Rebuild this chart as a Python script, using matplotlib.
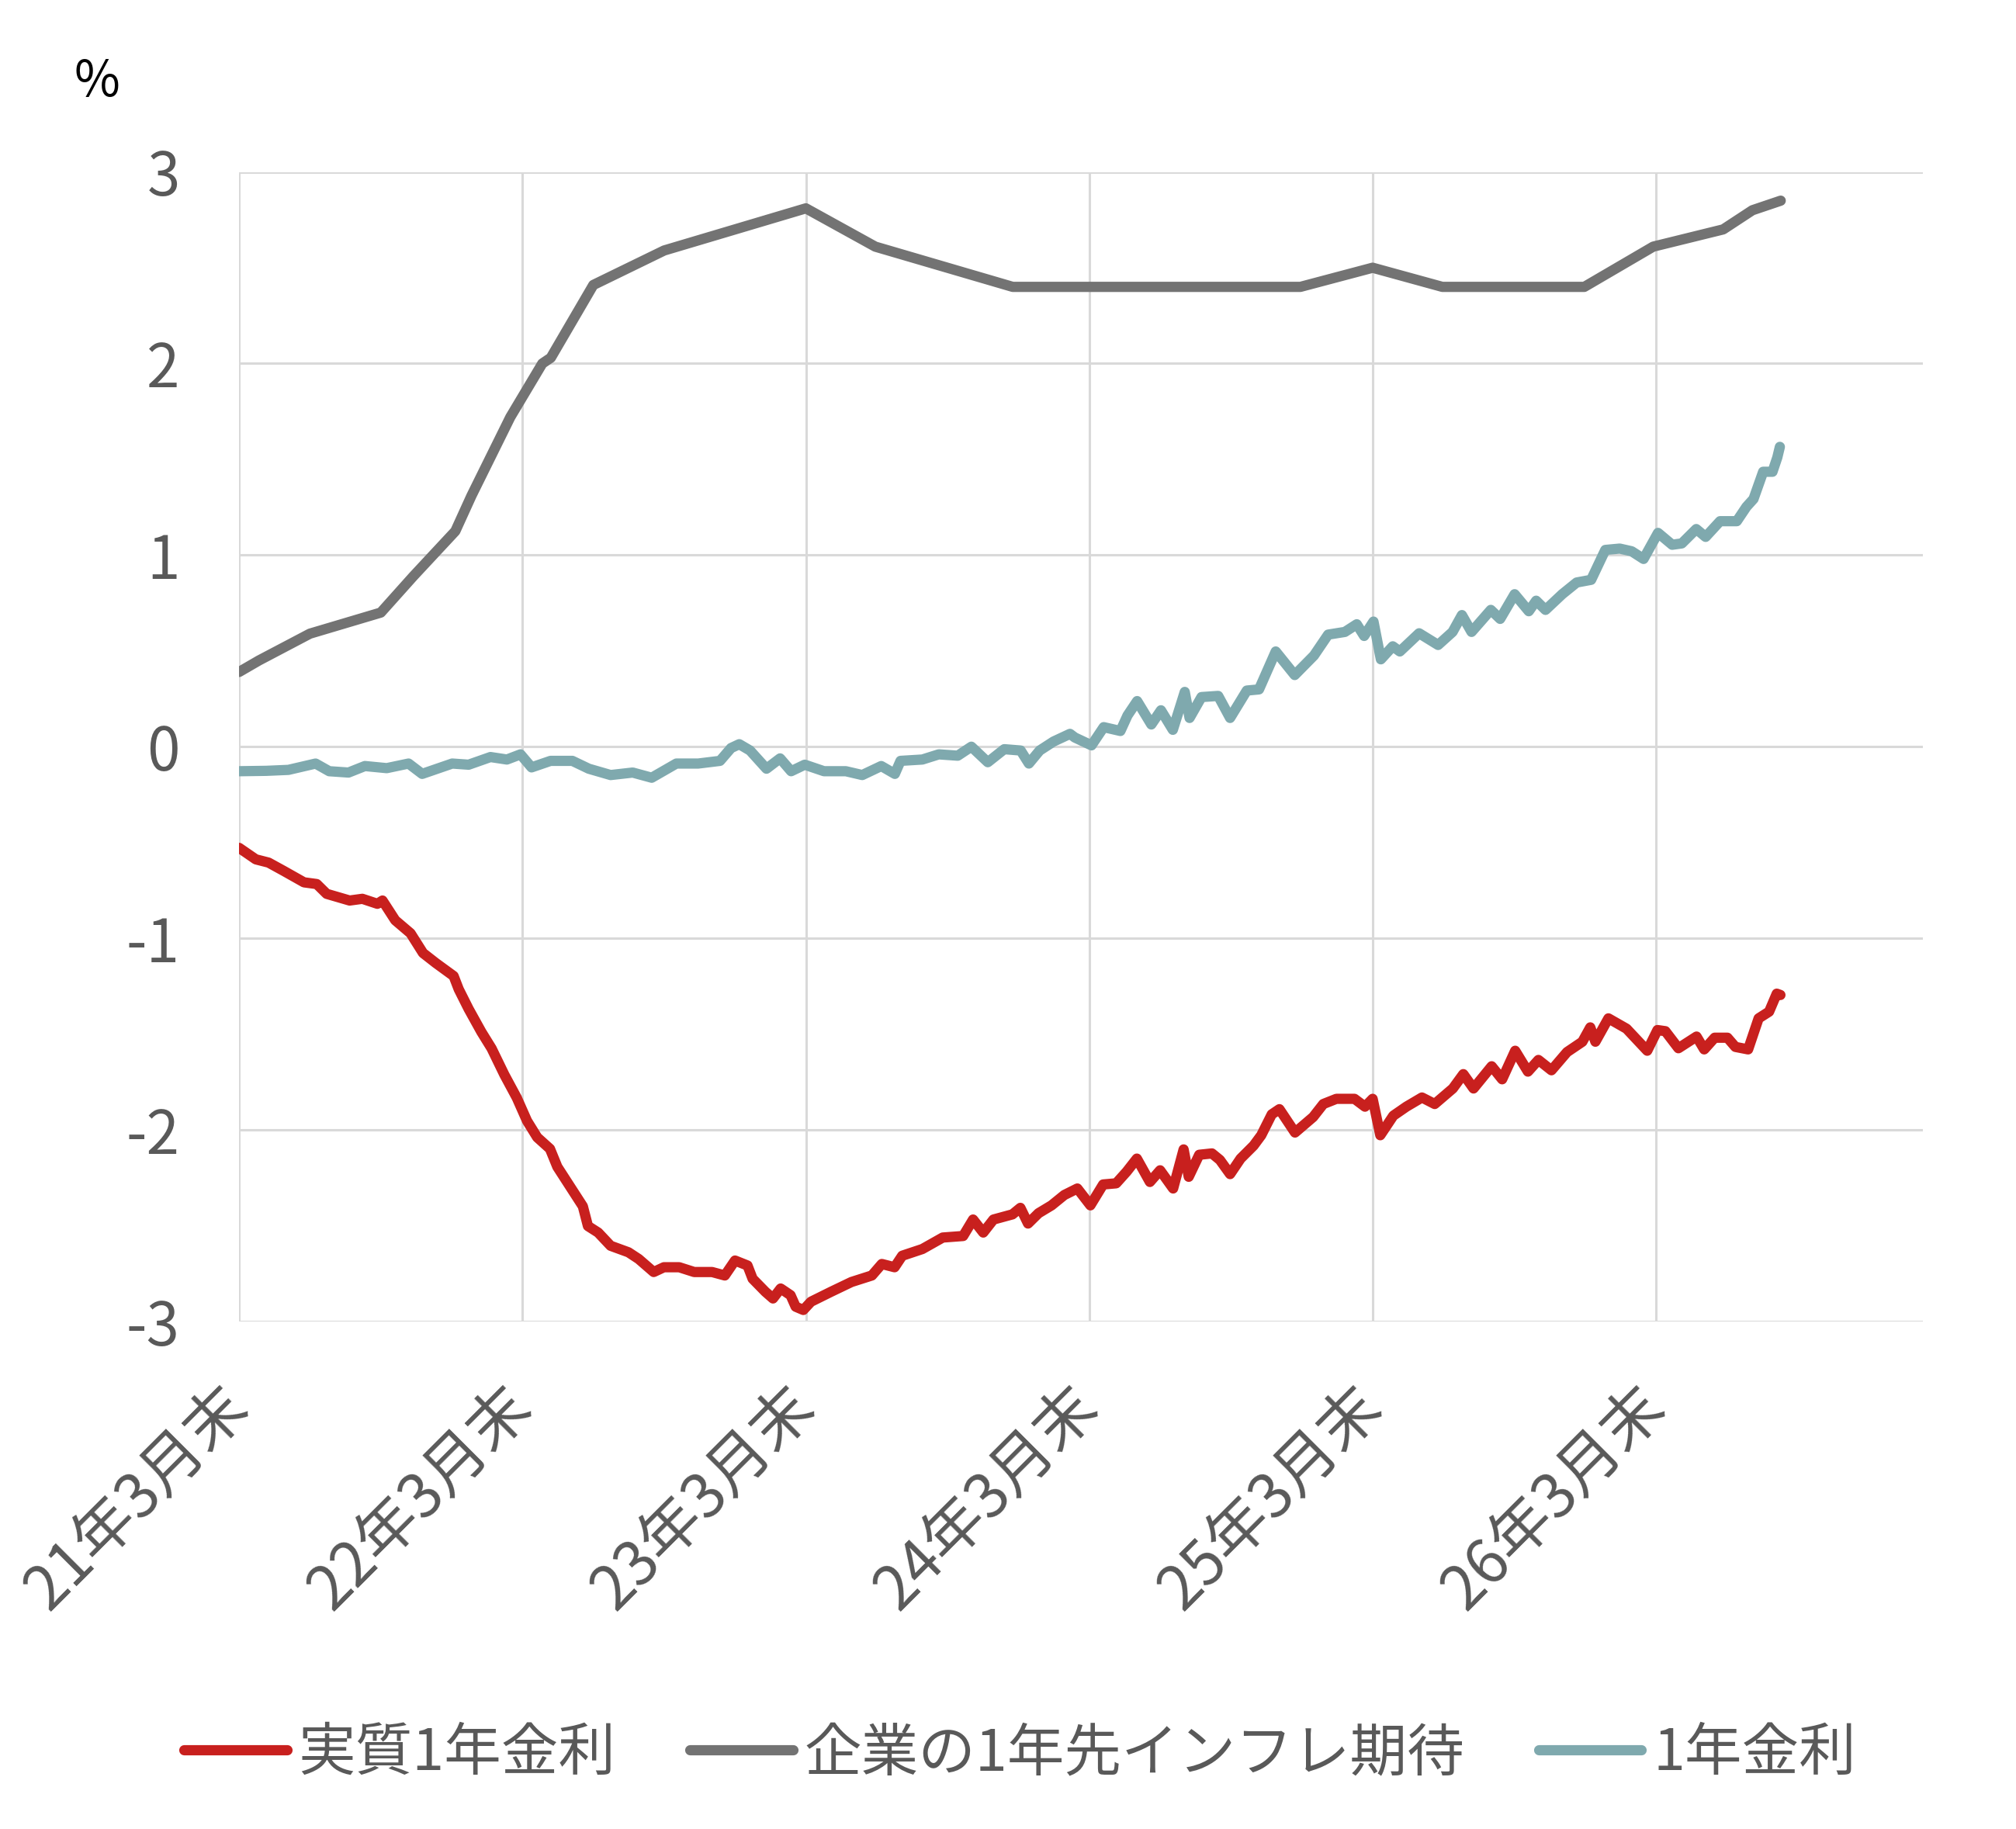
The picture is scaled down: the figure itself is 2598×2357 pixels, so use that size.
import matplotlib
matplotlib.use("Agg")
import numpy as np
from matplotlib import pyplot as plt

plt.rcParams['font.family'] = ['Noto Sans CJK JP', 'DejaVu Sans']

# x軸: 21年3月末からの経過年数
tick_pos = [0, 1, 2, 3, 4, 5]
tick_labels = ['21年3月末', '22年3月末', '23年3月末', '24年3月末', '25年3月末', '26年3月末']

# 企業の1年先インフレ期待
infl_t = [0.0, 0.07, 0.25, 0.50, 0.615, 0.763, 0.82, 0.957, 1.07, 1.10, 1.25, 1.50,
          1.75, 2.0, 2.245, 2.73, 3.745, 4.0, 4.246, 4.747, 4.99, 5.237, 5.34, 5.44]
infl_v = [0.39, 0.45, 0.59, 0.70, 0.89, 1.125, 1.31, 1.72, 2.0, 2.03, 2.41, 2.59,
          2.70, 2.81, 2.61, 2.40, 2.40, 2.50, 2.40, 2.40, 2.61, 2.70, 2.80, 2.85]

# 1年金利
rate_t = [0.000, 0.096, 0.174, 0.270, 0.318, 0.386, 0.444, 0.521, 0.598, 0.646,
          0.752, 0.810, 0.887, 0.945, 0.993, 1.032, 1.099, 1.176, 1.234, 1.311,
          1.389, 1.456, 1.543, 1.620, 1.697, 1.736, 1.765, 1.803, 1.861, 1.909,
          1.948, 1.996, 2.064, 2.141, 2.199, 2.266, 2.314, 2.334, 2.411, 2.469,
          2.536, 2.584, 2.642, 2.700, 2.758, 2.787, 2.825, 2.874, 2.932, 2.949,
          3.008, 3.051, 3.110, 3.135, 3.169, 3.219, 3.253, 3.295, 3.337, 3.354,
          3.396, 3.455, 3.497, 3.556, 3.599, 3.658, 3.725, 3.793, 3.843, 3.902,
          3.944, 3.970, 4.003, 4.029, 4.071, 4.096, 4.164, 4.231, 4.282, 4.315,
          4.349, 4.417, 4.450, 4.501, 4.551, 4.577, 4.610, 4.669, 4.720, 4.771,
          4.821, 4.872, 4.914, 4.956, 5.007, 5.057, 5.091, 5.142, 5.175, 5.226,
          5.285, 5.319, 5.344, 5.378, 5.411, 5.428, 5.437]
rate_v = [-0.128, -0.126, -0.121, -0.088, -0.128, -0.135, -0.101, -0.112, -0.088, -0.142,
          -0.088, -0.094, -0.054, -0.067, -0.040, -0.108, -0.074, -0.074, -0.115, -0.148,
          -0.135, -0.162, -0.088, -0.088, -0.074, -0.007, 0.013, -0.020, -0.115, -0.061,
          -0.128, -0.094, -0.128, -0.128, -0.148, -0.101, -0.142, -0.074, -0.067, -0.040,
          -0.047, 0.000, -0.081, -0.013, -0.020, -0.088, -0.020, 0.027, 0.067, 0.048,
          0.007, 0.102, 0.082, 0.163, 0.238, 0.116, 0.190, 0.088, 0.286, 0.150,
          0.259, 0.265, 0.150, 0.293, 0.299, 0.497, 0.374, 0.476, 0.585, 0.599,
          0.639, 0.578, 0.653, 0.456, 0.524, 0.497, 0.592, 0.531, 0.599, 0.687,
          0.599, 0.714, 0.667, 0.796, 0.707, 0.762, 0.714, 0.796, 0.857, 0.871,
          1.027, 1.034, 1.020, 0.980, 1.116, 1.054, 1.061, 1.136, 1.095, 1.177,
          1.177, 1.252, 1.293, 1.435, 1.435, 1.510, 1.565]

# 実質1年金利
real_t = [0.000, 0.059, 0.104, 0.157, 0.229, 0.274, 0.309, 0.390, 0.435, 0.488,
          0.506, 0.551, 0.605, 0.649, 0.694, 0.757, 0.775, 0.810, 0.855, 0.891,
          0.936, 0.980, 1.016, 1.052, 1.097, 1.123, 1.168, 1.213, 1.231, 1.267,
          1.311, 1.374, 1.410, 1.463, 1.499, 1.553, 1.606, 1.669, 1.714, 1.750,
          1.794, 1.812, 1.857, 1.884, 1.911, 1.946, 1.964, 1.991, 2.018, 2.089,
          2.161, 2.233, 2.268, 2.313, 2.340, 2.411, 2.483, 2.555, 2.590, 2.626,
          2.662, 2.729, 2.757, 2.784, 2.821, 2.867, 2.912, 2.958, 3.004, 3.049,
          3.095, 3.132, 3.168, 3.214, 3.250, 3.296, 3.333, 3.351, 3.388, 3.433,
          3.461, 3.497, 3.534, 3.580, 3.607, 3.644, 3.671, 3.726, 3.790, 3.826,
          3.872, 3.936, 3.973, 4.000, 4.027, 4.073, 4.119, 4.174, 4.219, 4.283,
          4.320, 4.356, 4.420, 4.457, 4.503, 4.548, 4.585, 4.631, 4.686, 4.740,
          4.768, 4.786, 4.832, 4.896, 4.969, 5.005, 5.033, 5.079, 5.143, 5.170,
          5.207, 5.252, 5.280, 5.325, 5.362, 5.399, 5.426, 5.439]
real_v = [-0.528, -0.588, -0.605, -0.648, -0.708, -0.717, -0.768, -0.803, -0.794, -0.820,
          -0.803, -0.906, -0.974, -1.077, -1.129, -1.197, -1.266, -1.369, -1.489, -1.575,
          -1.712, -1.833, -1.953, -2.039, -2.099, -2.193, -2.296, -2.399, -2.502, -2.536,
          -2.605, -2.639, -2.674, -2.742, -2.717, -2.717, -2.742, -2.742, -2.760, -2.682,
          -2.708, -2.777, -2.845, -2.880, -2.828, -2.863, -2.923, -2.940, -2.897, -2.845,
          -2.794, -2.760, -2.700, -2.717, -2.657, -2.622, -2.562, -2.554, -2.468, -2.536,
          -2.468, -2.441, -2.407, -2.489, -2.435, -2.394, -2.340, -2.306, -2.394, -2.285,
          -2.279, -2.218, -2.150, -2.272, -2.211, -2.306, -2.102, -2.245, -2.130, -2.123,
          -2.157, -2.231, -2.150, -2.082, -2.028, -1.919, -1.892, -2.014, -1.933, -1.865,
          -1.838, -1.838, -1.879, -1.838, -2.028, -1.926, -1.879, -1.831, -1.865, -1.784,
          -1.709, -1.784, -1.668, -1.736, -1.587, -1.696, -1.635, -1.689, -1.594, -1.540,
          -1.465, -1.540, -1.418, -1.472, -1.587, -1.479, -1.485, -1.574, -1.513, -1.580,
          -1.519, -1.519, -1.567, -1.580, -1.418, -1.383, -1.289, -1.296]

RED = '#C8201E'
GRAY = '#737373'
TEAL = '#7FA9AE'
TXT = '#595959'

fig = plt.figure(figsize=(25.98, 23.57), dpi=100)
ax = fig.add_axes([0.1186, 0.2775, 0.8354, 0.6285])

lw = 9.5
ax.plot(real_t, real_v, color=RED, lw=lw, solid_capstyle='round', solid_joinstyle='round', label='実質1年金利')
ax.plot(infl_t, infl_v, color=GRAY, lw=lw, solid_capstyle='round', solid_joinstyle='round', label='企業の1年先インフレ期待')
ax.plot(rate_t, rate_v, color=TEAL, lw=lw, solid_capstyle='round', solid_joinstyle='round', label='1年金利')

ax.set_xlim(0, 5.943)
ax.set_ylim(-3, 3)
ax.set_yticks([-3, -2, -1, 0, 1, 2, 3])
ax.set_yticklabels(['-3', '-2', '-1', '0', '1', '2', '3'])
ax.set_xticks(tick_pos)
ax.set_xticklabels(tick_labels, rotation=45, ha='right', va='center', rotation_mode='anchor')

ax.grid(True, color='#D9D9D9', lw=2.2)
ax.set_axisbelow(True)
for s in ax.spines.values():
    s.set_visible(False)
ax.tick_params(axis='both', length=0, colors=TXT)
ax.tick_params(axis='y', pad=55, labelsize=55)
ax.tick_params(axis='x', pad=70, labelsize=57)

fig.text(0.048, 0.955, '%', fontsize=46, color='black', ha='center', va='center')

leg = fig.legend(loc='center', bbox_to_anchor=(0.506, 0.041), ncol=3, frameon=False,
                 fontsize=53, handlelength=1.8, handletextpad=0.2, columnspacing=1.3,
                 labelcolor=TXT)

plt.savefig('out.png', dpi=100)
